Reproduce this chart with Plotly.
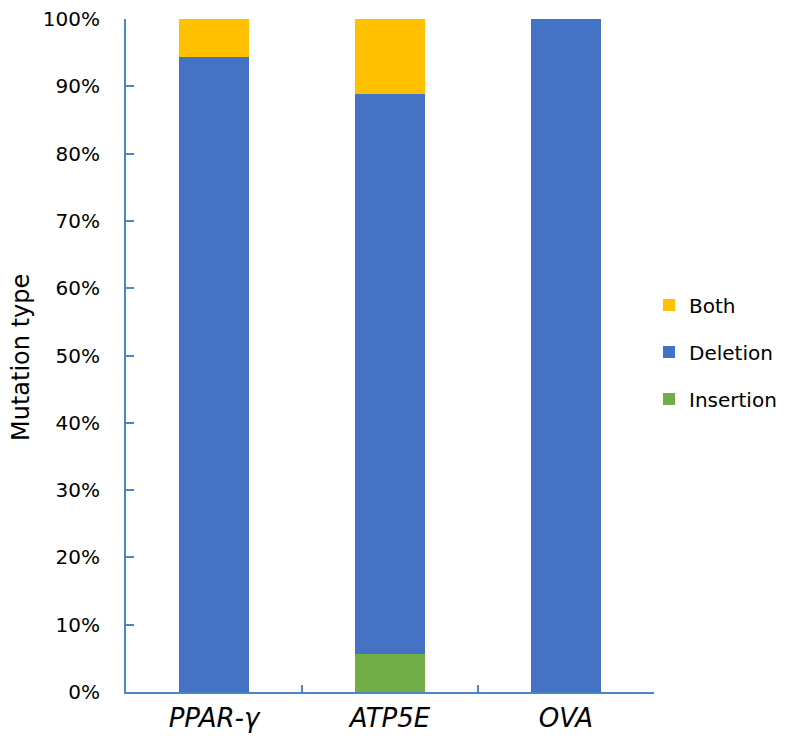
import plotly.graph_objects as go

categories = ["PPAR-γ", "ATP5E", "OVA"]
insertion = [0, 5.6, 0]
deletion = [94.4, 83.3, 100]
both = [5.6, 11.1, 0]
y_ticks = [0, 10, 20, 30, 40, 50, 60, 70, 80, 90, 100]
y_tick_labels = [f"{v}%" for v in y_ticks]

series = [
    ("Insertion", insertion, "#70AD47", 3),
    ("Deletion", deletion, "#4472C4", 2),
    ("Both", both, "#FFC000", 1),
]

fig = go.Figure()
for name, vals, color, rank in series:
    fig.add_trace(go.Bar(
        x=categories, y=vals, name=name, legendgroup=name, legendrank=rank,
        marker=dict(color=color, line=dict(width=0)),
        width=0.4,
    ))

axis_color = "#4A86C8"
W, H = 789, 736
ml, mr, mt, mb = 118, 143, 11, 52
pw = W - ml - mr
ph = H - mt - mb

fig.update_layout(
    width=W, height=H,
    margin=dict(l=ml, r=mr, t=mt, b=mb, pad=0, autoexpand=False),
    barmode="stack",
    plot_bgcolor="white", paper_bgcolor="white",
    font=dict(family="DejaVu Sans", color="black", size=20),
    showlegend=True,
    legend=dict(
        traceorder="grouped",
        tracegroupgap=18,
        itemwidth=30,
        x=(641 - ml) / pw, xanchor="left",
        y=(H - mb - 344) / ph, yanchor="middle",
        font=dict(family="DejaVu Sans", size=20, color="black"),
        bgcolor="rgba(0,0,0,0)",
    ),
    xaxis=dict(
        automargin=False,
        showline=True, linecolor=axis_color, linewidth=2,
        ticks="inside", tickson="boundaries", ticklen=7, tickwidth=2, tickcolor=axis_color,
        tickfont=dict(family="DejaVu Sans", size=26, style="italic", color="black"),
        ticklabelstandoff=2,
        showgrid=False, zeroline=False,
    ),
    yaxis=dict(
        automargin=False,
        range=[0, 100], tickmode="array", tickvals=y_ticks, ticktext=y_tick_labels,
        ticklabeloverflow="allow",
        showline=True, linecolor=axis_color, linewidth=2,
        ticks="inside", ticklen=8, tickwidth=2, tickcolor=axis_color,
        tickfont=dict(family="DejaVu Sans", size=20, color="black"),
        ticklabelstandoff=20,
        showgrid=False, zeroline=False,
    ),
    annotations=[dict(
        text="Mutation type", textangle=-90,
        xref="paper", yref="paper",
        x=(13 - ml) / pw, y=(H - mb - 350) / ph,
        xanchor="center", yanchor="middle", showarrow=False,
        font=dict(family="DejaVu Sans", size=24, color="black"),
    )],
)

fig.write_html("out.html")
